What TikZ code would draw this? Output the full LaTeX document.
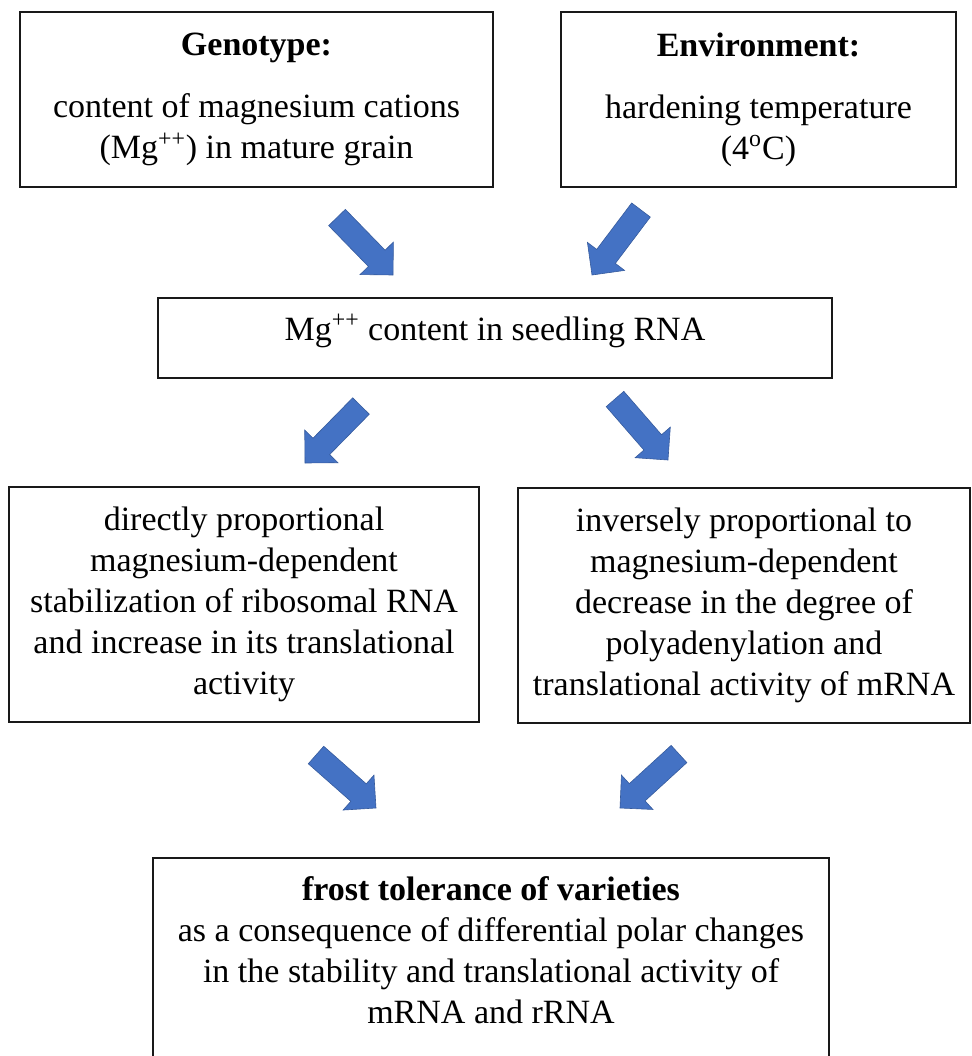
\documentclass[tikz,border=0pt]{standalone}
\usepackage{fontspec}
\setmainfont{Liberation Serif}
\usetikzlibrary{calc,positioning}
\definecolor{arrowblue}{HTML}{4472C4}
\tikzstyle{block} = [rectangle,draw=black!90,line width=1pt,align=center,inner sep=0pt,font=\fontsize{17}{20.5}\selectfont]
\tikzstyle{fat} = [fill=arrowblue,draw=arrowblue!80!black,line width=0.3pt]
% block arrow from #1 (tail) to #2 (tip)
\newcommand{\fatarrow}[2]{%
  \path ($(#2)!11.65pt!(#1)$) coordinate (fat-base);
  \filldraw[fat] ($(#1)!5.83pt!90:(#2)$) -- ($(fat-base)!5.83pt!90:(#2)$) -- ($(fat-base)!11.65pt!90:(#2)$)
    -- (#2) -- ($(fat-base)!11.65pt!-90:(#2)$) -- ($(fat-base)!5.83pt!-90:(#2)$) -- ($(#1)!5.83pt!-90:(#2)$) -- cycle;}

\begin{document}
\begin{tikzpicture}[x=0.5pt,y=-0.5pt]
            \clip (0,0) rectangle (972,1056);
            \node[block,minimum width=236.5pt,minimum height=87.5pt] (geno) at (256.5,99.5) {\textbf{Genotype:}\\[10.5pt] content of magnesium cations \\ (Mg\textsuperscript{++}) in mature grain};
            \node[block,minimum width=197.5pt,minimum height=87.5pt] (env) at (758.5,99.5) {\textbf{Environment:}\\[10.5pt] hardening temperature \\ (4\textsuperscript{o}C)};
            \node[block,minimum width=337pt,minimum height=40pt,text height=12pt,text depth=10pt] (mg) at (495,338) {Mg\textsuperscript{++} content in seedling RNA};
            \node[block,minimum width=235pt,minimum height=117.5pt] (dir) at (244,604.5) {directly proportional \\ magnesium-dependent \\ stabilization of ribosomal RNA \\ and increase in its translational \\ activity};
            \node[block,minimum width=226pt,minimum height=117.5pt] (inv) at (744,605) {inversely proportional to \\ magnesium-dependent \\ decrease in the degree of \\ polyadenylation and \\ translational activity of mRNA};
            \node[block,minimum width=338pt,anchor=north,inner ysep=9.4pt] (frost) at (491,857) {\textbf{frost tolerance of varieties} \\ as a consequence of differential polar changes \\ in the stability and translational activity of \\ mRNA and rRNA \\ ~};
            % block arrows
            \coordinate (geno-tail) at (337,217.5);  \coordinate (geno-tip) at (393,275);
            \coordinate (env-tail) at (641,210);     \coordinate (env-tip) at (592,275);
            \coordinate (mg-l-tail) at (361,406);    \coordinate (mg-l-tip) at (305,463);
            \coordinate (mg-r-tail) at (615,399);    \coordinate (mg-r-tip) at (668,460);
            \coordinate (dir-tail) at (316,755);     \coordinate (dir-tip) at (376,808);
            \coordinate (inv-tail) at (679,754);     \coordinate (inv-tip) at (620,808);
            \fatarrow{geno-tail}{geno-tip}
            \fatarrow{env-tail}{env-tip}
            \fatarrow{mg-l-tail}{mg-l-tip}
            \fatarrow{mg-r-tail}{mg-r-tip}
            \fatarrow{dir-tail}{dir-tip}
            \fatarrow{inv-tail}{inv-tip}
        \end{tikzpicture}
\end{document}
